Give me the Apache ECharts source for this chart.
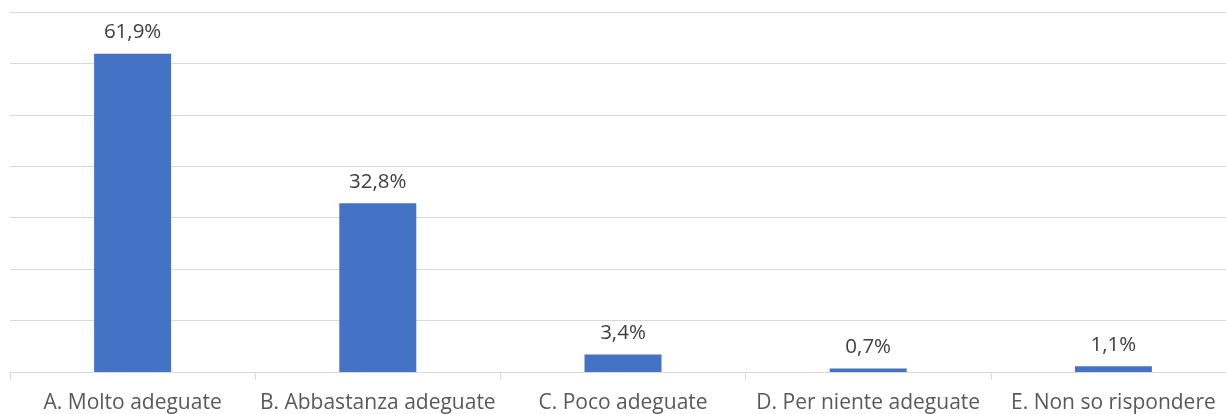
<!DOCTYPE html>
<html><head><meta charset="utf-8">
<script src="https://cdn.jsdelivr.net/npm/echarts@6/dist/echarts.min.js"></script>
<style>html,body{margin:0;padding:0;background:#fff}#c{width:1226px;height:414px}</style>
</head><body><div id="c"></div>
<script>
const categories = ["A. Molto adeguate","B. Abbastanza adeguate","C. Poco adeguate","D. Per niente adeguate","E. Non so rispondere"];
const values = [61.9, 32.8, 3.4, 0.7, 1.1];
const chart = echarts.init(document.getElementById('c'), null, {renderer:'canvas'});
const font = 'Open Sans';
chart.setOption({
  animation:false,
  grid:{left:10, top:12, width:1226, bottom:42, containLabel:false, outerBoundsMode:'none'},
  xAxis:{type:'category', data:categories,
    axisLine:{lineStyle:{color:'#d9d9d9', width:1}},
    axisTick:{show:true, length:8, lineStyle:{color:'#d9d9d9'}},
    axisLabel:{color:'#595959', fontSize:21, fontFamily:font, margin:21, interval:0}},
  yAxis:{type:'value', min:0, max:70, interval:10,
    axisLabel:{show:false}, axisLine:{show:false}, axisTick:{show:false},
    splitLine:{lineStyle:{color:'#d9d9d9', width:1}}},
  series:[{type:'bar', data:values, barWidth:77,
    itemStyle:{color:'#4472c4'},
    label:{show:true, position:'top', distance:11, color:'#404040', fontSize:20.5, fontFamily:font,
      formatter:p=>p.value.toFixed(1).replace('.',',')+'%'}}]
});
</script></body></html>
